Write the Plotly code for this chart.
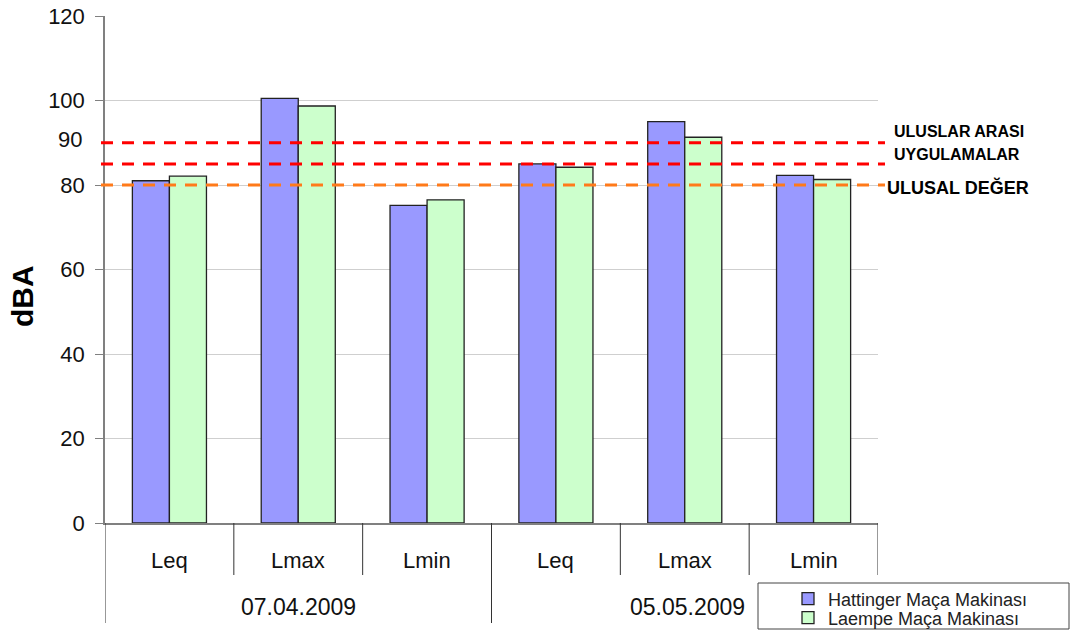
import plotly.graph_objects as go

# ---- data ----
dates = ["07.04.2009", "05.05.2009"]
metrics = ["Leq", "Lmax", "Lmin"]
hattinger = [81.0, 100.5, 75.2, 85.0, 95.0, 82.3]
laempe = [82.1, 98.7, 76.5, 84.2, 91.3, 81.3]
series_names = ["Hattinger Maça Makinası", "Laempe Maça Makinası"]
limit_values = [90, 85, 80]
limit_colors = ["#FF0000", "#FF0000", "#FF7A1A"]
yticks = [0, 20, 40, 60, 80, 100, 120]
extra_ytick = 90

# ---- layout geometry (pixels) ----
W, H = 1070, 630
L, R, T, B = 105, 878, 16, 523
pw, ph = R - L, B - T


def px_x(px):
    return (px - L) / pw


def px_y(py):
    return (B - py) / ph


x_keys = [f"{d} {m}" for d in dates for m in metrics]

fig = go.Figure()
fig.add_trace(go.Bar(x=x_keys, y=hattinger, name=series_names[0], legend="legend",
                     marker=dict(color="#9999FF", line=dict(color="#222222", width=1.3))))
fig.add_trace(go.Bar(x=x_keys, y=laempe, name=series_names[1], legend="legend2",
                     marker=dict(color="#CCFFCC", line=dict(color="#222222", width=1.3))))

shapes = []
annotations = []

# limit lines
for v, c in zip(limit_values, limit_colors):
    shapes.append(dict(type="line", xref="paper", yref="y", x0=px_x(101), x1=px_x(885),
                       y0=v, y1=v, line=dict(color=c, width=3, dash="12px,9px"), layer="above"))

# category separators below the axis
n = len(x_keys)
for i in range(n + 1):
    xb = i - 0.5
    long = (i % len(metrics) == 0) and i != n
    y1 = px_y(623) if long else px_y(575)
    shapes.append(dict(type="line", xref="x", yref="paper", x0=xb, x1=xb, y0=0, y1=y1,
                       line=dict(color="#333333", width=1)))

# category labels
for k, m in zip(x_keys, [m for d in dates for m in metrics]):
    annotations.append(dict(x=k, y=px_y(560), xref="x", yref="paper", text=m, showarrow=False,
                            font=dict(size=22, color="#111111"), xanchor="center", yanchor="middle"))
for gi, d in enumerate(dates):
    xc = gi * len(metrics) + (len(metrics) - 1) / 2
    annotations.append(dict(x=xc, y=px_y(607), xref="x", yref="paper", text=d, showarrow=False,
                            font=dict(size=23, color="#111111"), xanchor="center", yanchor="middle",
                            xshift=3 if gi else 0))

# extra "90" tick label
annotations.append(dict(x=px_x(84), y=extra_ytick, xref="paper", yref="y", text=str(extra_ytick),
                        showarrow=False, xanchor="right", yanchor="middle", yshift=3,
                        font=dict(size=22, color="#111111")))

# y axis title
annotations.append(dict(x=px_x(23), y=px_y(296), xref="paper", yref="paper", text="<b>dBA</b>",
                        showarrow=False, textangle=-90, xanchor="center", yanchor="middle",
                        font=dict(size=30, color="#000000")))

# limit labels
annotations.append(dict(x=px_x(892), y=px_y(131), xref="paper", yref="paper",
                        text="<b>ULUSLAR ARASI</b>", showarrow=False, xanchor="left", yanchor="middle",
                        font=dict(size=16, color="#000000")))
annotations.append(dict(x=px_x(892), y=px_y(155), xref="paper", yref="paper",
                        text="<b>UYGULAMALAR</b>", showarrow=False, xanchor="left", yanchor="middle",
                        font=dict(size=16, color="#000000")))
annotations.append(dict(x=px_x(885), y=px_y(188), xref="paper", yref="paper",
                        text="<b>ULUSAL DEĞER</b>", showarrow=False, xanchor="left", yanchor="middle",
                        font=dict(size=18, color="#000000")))

# legend box
shapes.append(dict(type="rect", xref="paper", yref="paper", x0=px_x(758), x1=px_x(1069),
                   y0=px_y(583), y1=px_y(629), line=dict(color="#444444", width=1),
                   fillcolor="white", layer="below"))

legend_common = dict(xanchor="left", yanchor="middle", bgcolor="rgba(0,0,0,0)", borderwidth=0,
                     font=dict(size=18, color="#222222"), itemwidth=30)

fig.update_layout(
    width=W, height=H,
    margin=dict(l=L, r=W - R, t=T, b=H - B, autoexpand=False),
    paper_bgcolor="white", plot_bgcolor="white",
    font=dict(family="Liberation Sans, Arial", color="#111111"),
    barmode="group", bargap=0.425, bargroupgap=0,
    showlegend=True,
    legend=dict(x=px_x(788), y=px_y(599), **legend_common),
    legend2=dict(x=px_x(788), y=px_y(618), **legend_common),
    shapes=shapes, annotations=annotations,
    xaxis=dict(range=[-0.5, n - 0.5], showticklabels=False, ticks="", showgrid=False,
               showline=True, linecolor="#808080", linewidth=1.5, fixedrange=True),
    yaxis=dict(range=[0, 120], tickvals=yticks, ticks="outside", ticklen=8, tickcolor="#808080",
               tickfont=dict(size=22, color="#111111"), ticklabelstandoff=6,
               showgrid=True, gridcolor="#CFCFCF", gridwidth=1.2,
               showline=True, linecolor="#808080", linewidth=1.5, zeroline=False),
)

fig.write_html("out.html")
